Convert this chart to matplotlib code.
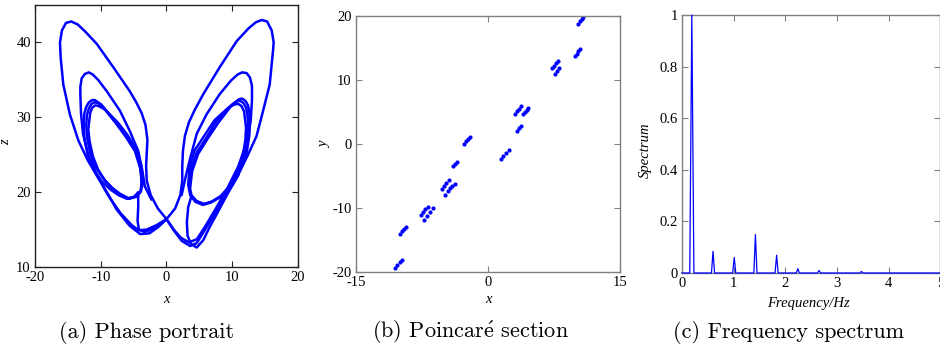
import matplotlib
matplotlib.use('Agg')
import matplotlib.pyplot as plt

# (a) phase portrait, traced loop by loop (x, z)
left_outer_x = [0.0, -1.3, -2.4, -3.0, -3.1, -3.0, -2.9, -3.2, -3.8, -4.6, -5.6, -8.1, -10.6, -12.3,
                -13.5, -14.5, -15.3, -15.9, -16.2, -16.1, -15.7, -14.7, -13.4, -12.0, -10.6, -9.0,
                -7.6, -5.6, -4.0, -2.6, -1.3, 0.0]
left_outer_z = [16.4, 17.8, 19.6, 21.5, 23.5, 25.3, 27.0, 29.0, 30.6, 32.0, 33.5, 36.7, 39.8, 41.4,
                42.4, 42.8, 42.6, 41.6, 40.0, 38.0, 34.4, 30.4, 26.9, 24.3, 22.2, 19.9,
                17.7, 15.5, 14.4, 14.5, 15.3, 16.4]
right_outer_x = [0.0, 1.3, 2.1, 2.4, 2.4, 2.5, 2.8, 3.4, 4.3, 5.6, 8.1, 10.7, 12.5, 13.6, 14.5, 15.3,
                 16.0, 16.3, 16.2, 15.7, 14.7, 13.7, 12.4, 11.0, 9.3, 7.4, 5.8, 4.6, 3.6, 2.3,
                 1.1, 0.0]
right_outer_z = [16.4, 17.8, 19.6, 21.5, 23.5, 25.5, 27.5, 29.3, 31.0, 33.1, 36.7, 40.2, 41.9, 42.7,
                 43.0, 42.8, 41.6, 40.0, 38.9, 34.4, 30.9, 27.5, 25.0, 22.5, 20.0, 17.2, 14.9,
                 13.2, 12.8, 13.5, 14.9, 16.4]
left_mid_x = [-2.3, -3.3, -3.7, -4.3, -5.6, -7.1, -9.1, -10.4, -11.2, -11.8, -12.4, -12.9, -13.1,
              -13.1, -13.0, -12.7, -11.9, -10.6, -8.9, -7.0, -5.3, -4.2, -3.0, -1.5, 0.0]
left_mid_z = [19.0, 20.8, 23.0, 25.5, 28.2, 30.9, 33.5, 35.0, 35.7, 36.0, 35.8, 35.2, 34.1,
              33.0, 30.5, 27.8, 25.0, 22.3, 19.6, 17.2, 15.6, 14.9, 15.0, 15.6, 16.4]
right_mid_x = [2.3, 2.9, 3.6, 4.6, 6.1, 8.1, 9.8, 10.8, 11.5, 12.2, 12.7, 13.0, 13.0, 12.8, 12.1,
               10.9, 9.3, 7.5, 5.8, 4.6, 3.4, 2.2, 1.1, 0.0]
right_mid_z = [19.6, 22.0, 24.5, 27.8, 30.4, 33.1, 34.9, 35.7, 36.0, 35.9, 35.3, 34.2, 32.2, 29.5,
               26.4, 23.4, 20.6, 17.8, 15.3, 13.7, 13.3, 13.9, 15.0, 16.4]
left_small_a_x = [-3.8, -3.9, -4.6, -6.1, -7.6, -9.6, -10.4, -10.9, -11.4, -11.8, -12.1, -12.2,
                  -12.1, -11.6, -10.8, -9.6, -8.3, -7.1, -5.8, -4.7, -4.0, -3.8]
left_small_a_z = [21.0, 23.1, 25.3, 27.3, 29.1, 31.3, 31.9, 32.0, 31.8, 31.2, 30.3, 29.0,
                  27.4, 25.2, 23.4, 21.8, 20.6, 19.8, 19.2, 19.4, 20.0, 21.0]
left_small_b_x = [-3.6, -3.8, -4.5, -5.9, -7.4, -9.3, -10.3, -10.8, -11.3, -11.6, -11.9, -11.7,
                  -11.2, -10.4, -9.3, -8.1, -6.9, -5.7, -4.5, -3.9, -3.6]
left_small_b_z = [21.2, 23.4, 25.6, 27.6, 29.3, 31.0, 31.5, 31.6, 31.3, 30.6, 28.4, 26.8,
                  24.8, 23.0, 21.5, 20.4, 19.6, 19.1, 19.4, 20.1, 21.2]
left_small_c_x = [-3.7, -4.0, -4.8, -6.3, -7.9, -9.9, -10.9, -11.3, -11.8, -12.2, -12.5, -12.6,
                  -12.5, -12.0, -11.1, -9.9, -8.6, -7.3, -6.0, -4.9, -4.3, -4.3, -4.4, -4.2,
                  -3.4, -2.2, -1.1, 0.0]
left_small_c_z = [21.0, 23.2, 25.5, 27.6, 29.5, 31.7, 32.3, 32.3, 32.0, 31.4, 30.5, 29.0,
                  27.3, 25.0, 23.1, 21.5, 20.4, 19.6, 19.1, 19.4, 20.0, 18.0, 16.2, 15.0,
                  14.7, 15.0, 15.6, 16.4]
right_small_a_x = [3.5, 3.7, 4.6, 6.1, 7.6, 9.7, 10.6, 11.2, 11.7, 12.1, 12.3, 12.4, 12.3, 11.9,
                   11.0, 9.8, 8.3, 6.8, 5.6, 4.5, 3.8, 3.5]
right_small_a_z = [20.8, 23.0, 25.3, 27.3, 29.5, 31.5, 32.1, 32.2, 31.9, 31.3, 30.4, 29.2, 27.5,
                   25.2, 23.0, 21.0, 19.5, 18.7, 18.4, 18.8, 19.6, 20.8]
right_small_b_x = [3.3, 3.5, 4.3, 5.8, 7.3, 9.3, 10.3, 10.9, 11.4, 11.8, 12.1, 12.0, 11.6, 10.7,
                   9.5, 8.1, 6.7, 5.5, 4.4, 3.6, 3.3]
right_small_b_z = [21.0, 23.3, 25.6, 27.6, 29.6, 31.2, 31.7, 31.8, 31.5, 30.8, 28.6, 27.0, 24.8,
                   22.6, 20.7, 19.3, 18.6, 18.3, 18.7, 19.6, 21.0]
right_small_c_x = [3.6, 3.9, 4.8, 6.3, 7.9, 10.0, 11.0, 11.5, 12.0, 12.4, 12.6, 12.7, 12.6, 12.2,
                   11.3, 10.1, 8.6, 7.1, 5.8, 4.6, 3.8, 3.3, 3.1, 3.2, 3.7, 4.6, 5.6, 6.6, 7.6,
                   9.3, 11.0]
right_small_c_z = [20.6, 22.8, 25.1, 27.2, 29.3, 31.7, 32.4, 32.5, 32.2, 31.6, 30.7, 29.3, 27.6,
                   25.3, 23.1, 21.1, 19.6, 18.8, 18.4, 18.8, 19.5, 18.0, 16.0, 14.2, 13.1, 12.6,
                   13.6, 15.4, 17.0, 19.8, 22.4]

# (b) Poincare section points
poincare_x = [-10.54, -10.29, -10.03, -9.78, -9.96, -9.75, -9.54, -9.33,
              -7.59, -7.35, -7.11, -6.87, -7.32, -6.97, -6.61, -6.26,
              -5.24, -4.99, -4.73, -4.48, -4.86, -4.6, -4.33, -4.07, -3.8,
              -3.99, -3.76, -3.54, -2.71, -2.51, -2.3, -2.1,
              1.46, 1.75, 2.04, 2.33, 3.35, 3.54, 3.73,
              3.08, 3.3, 3.51, 3.73, 3.95, 4.17, 4.38, 4.6,
              7.25, 7.5, 7.75, 8.0, 7.62, 7.86, 8.1,
              9.9, 10.09, 10.27, 10.46, 10.27, 10.46, 10.65, 10.84]
poincare_y = [-19.3, -18.9, -18.5, -18.1, -14.0, -13.66, -13.31, -12.97,
              -11.1, -10.67, -10.23, -9.8, -11.9, -11.27, -10.63, -10.0,
              -7.0, -6.57, -6.13, -5.7, -7.9, -7.3, -6.93, -6.57, -6.2,
              -3.4, -3.1, -2.8, 0.05, 0.4, 0.75, 1.1,
              -2.3, -1.87, -1.43, -1.0, 2.1, 2.43, 2.76,
              4.74, 5.13, 5.51, 5.9, 4.74, 5.06, 5.38, 5.7,
              11.8, 12.2, 12.6, 13.0, 10.9, 11.35, 11.8,
              13.7, 14.1, 14.5, 14.9, 18.8, 19.17, 19.53, 19.9]

# (c) frequency spectrum
freq = [0, 0.15, 0.19, 0.23, 0.57, 0.6, 0.63, 0.98, 1.01, 1.04, 1.39, 1.42, 1.45,
        1.80, 1.83, 1.86, 2.21, 2.24, 2.27, 2.62, 2.65, 2.68, 3.44, 3.47, 3.50, 5.0]
spectrum = [0, 0, 1.0, 0, 0, 0.084, 0, 0, 0.06, 0, 0, 0.149, 0,
            0, 0.069, 0, 0, 0.017, 0, 0, 0.01, 0, 0, 0.006, 0, 0]

plt.rcParams['font.family'] = 'Liberation Serif'
plt.rcParams['axes.unicode_minus'] = False
plt.rcParams['mathtext.fontset'] = 'cm'
cap_font = 'cmr10'
blue = '#0000ff'

fig = plt.figure(figsize=(9.4, 3.47), dpi=100)
W, H = 940.0, 347.0


def style(ax, spine_color):
    for s in ax.spines.values():
        s.set_color(spine_color)
        s.set_linewidth(1.0)
    ax.tick_params(direction='in', top=True, right=True, length=4, width=0.8,
                   color=spine_color, labelsize=10.5, pad=3)


# panel a
ax1 = fig.add_axes([35 / W, 1 - 267 / H, 263 / W, 262 / H])
loops = [(left_outer_x, left_outer_z), (right_outer_x, right_outer_z),
         (left_mid_x, left_mid_z), (right_mid_x, right_mid_z),
         (left_small_a_x, left_small_a_z), (left_small_b_x, left_small_b_z),
         (left_small_c_x, left_small_c_z), (right_small_a_x, right_small_a_z),
         (right_small_b_x, right_small_b_z), (right_small_c_x, right_small_c_z)]
for lx, lz in loops:
    ax1.plot(lx, lz, color=blue, lw=1.8, solid_joinstyle='round', solid_capstyle='round')
ax1.set_xlim(-20, 20)
ax1.set_ylim(10, 45)
ax1.set_xticks([-20, -10, 0, 10, 20])
ax1.set_yticks([10, 20, 30, 40])
style(ax1, '#222222')
ax1.set_xlabel('x', fontstyle='italic', fontsize=10.5)
ax1.set_ylabel('z', fontstyle='italic', fontsize=10.5)
ax1.xaxis.set_label_coords(0.5, -0.099)
ax1.yaxis.set_label_coords(-0.085, 0.478)

# panel b
ax2 = fig.add_axes([356 / W, 1 - 272 / H, 264 / W, 256 / H])
ax2.plot(poincare_x, poincare_y, 'o', color=blue, ms=3.0, mec='none')
ax2.set_xlim(-15, 15)
ax2.set_ylim(-20, 20)
ax2.set_xticks([-15, 0, 15])
ax2.set_yticks([-20, -10, 0, 10, 20])
style(ax2, '#808080')
ax2.set_xlabel('x', fontstyle='italic', fontsize=10.5)
ax2.set_ylabel('y', fontstyle='italic', fontsize=10.5)
ax2.xaxis.set_label_coords(0.5, -0.082)
ax2.yaxis.set_label_coords(-0.092, 0.496)

# panel c
ax3 = fig.add_axes([682 / W, 1 - 273 / H, 258.5 / W, 258 / H])
ax3.plot(freq, spectrum, color=blue, lw=0.9, zorder=3, clip_on=False)
ax3.set_xlim(0, 5)
ax3.set_ylim(0, 1)
ax3.set_xticks([0, 1, 2, 3, 4, 5])
ax3.set_yticks([0, 0.2, 0.4, 0.6, 0.8, 1])
ax3.set_yticklabels(['0', '0.2', '0.4', '0.6', '0.8', '1'])
style(ax3, '#808080')
ax3.set_xlabel('Frequency/Hz', fontstyle='italic', fontsize=10.5)
ax3.set_ylabel('Spectrum', fontstyle='italic', fontsize=10.5)
ax3.xaxis.set_label_coords(0.49, -0.092)
ax3.yaxis.set_label_coords(-0.117, 0.477)

# captions
fig.text(147 / W, 1 - 332 / H, '(a) Phase portrait', family=cap_font, fontsize=16,
         ha='center', va='center')
fig.text(470 / W, 1 - 332 / H, r'(b) Poincar$\acute{\mathrm{e}}$ section', family=cap_font,
         fontsize=16, ha='center', va='center')
fig.text(789 / W, 1 - 332 / H, '(c) Frequency spectrum', family=cap_font, fontsize=16,
         ha='center', va='center')

fig.savefig('out.png', dpi=100)
